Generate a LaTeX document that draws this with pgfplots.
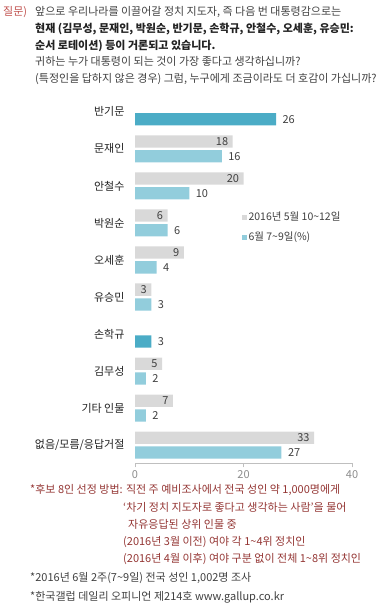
\documentclass[border=0pt]{standalone}
\usepackage{fontspec}
\setmainfont{Noto Sans CJK KR}
\usepackage{pgfplots}
\pgfplotsset{compat=1.18}
\definecolor{grayb}{HTML}{D9D9D9}
\definecolor{lblue}{HTML}{92CDDC}
\definecolor{dteal}{HTML}{4BACC6}
\definecolor{qred}{HTML}{C0504D}
\definecolor{fred}{HTML}{943634}
\definecolor{txt}{HTML}{404040}
\definecolor{txtb}{HTML}{222222}
\begin{document}
\begin{tikzpicture}[x=1pt,y=1pt]
\useasboundingbox (0,0) rectangle (380,-615);
% header
\begin{scope}[every node/.style={anchor=base west,inner sep=0pt,font=\fontsize{11}{12}\selectfont}]
\node[text=qred] at (3,-16) {질문)};
\node[text=txt] at (35,-16) {앞으로 우리나라를 이끌어갈 정치 지도자, 즉 다음 번 대통령감으로는};
\node[text=txtb] at (35,-33) {\bfseries 현재 (김무성, 문재인, 박원순, 반기문, 손학규, 안철수, 오세훈, 유승민:};
\node[text=txtb] at (35,-49.5) {\bfseries 순서 로테이션) 등이 거론되고 있습니다.};
\node[text=txt] at (35,-66) {귀하는 누가 대통령이 되는 것이 가장 좋다고 생각하십니까?};
\node[text=txt] at (35,-82.5) {(특정인을 답하지 않은 경우) 그럼, 누구에게 조금이라도 더 호감이 가십니까?};
\end{scope}
\begin{axis}[
  at={(135pt,-463.3pt)}, anchor=south west,
  scale only axis, width=217pt, height=370pt,
  xmin=0, xmax=40, ymin=-0.5, ymax=9.49,
  y dir=reverse,
  xbar, bar width=12.3pt,
  axis x line*=bottom, axis y line*=left,
  x axis line style={draw=black!25},
  y axis line style={draw=none},
  xtick={0,20,40},
  major x tick style={draw=black!25},
  x tick label style={text=black!45,font=\fontsize{11}{12}\selectfont},
  tick align=outside, major tick length=4pt,
  ytick={0,...,9},
  yticklabels={반기문,문재인,안철수,박원순,오세훈,유승민,손학규,김무성,기타 인물,없음/모름/응답거절},
  major y tick style={draw=none},
  y tick label style={text=txtb,font=\fontsize{11}{12}\selectfont,xshift=-3pt},
  /pgf/number format/assume math mode=true,
  legend style={draw=none,fill=none,at={(axis description cs:0.49,0.685)},anchor=north west,
    font=\fontsize{10.5}{12}\selectfont,text=txt,row sep=6pt,inner sep=0pt,
    legend cell align=left},
  legend image code/.code={\fill[#1,draw=none] (0pt,-2.5pt) rectangle (5pt,2.5pt);},
  nodes near coords,
  every node near coord/.append style={font=\fontsize{11}{12}\selectfont,text=txt},
]
\addplot[fill=grayb,draw=none,bar shift=7.4pt,
  every node near coord/.append style={anchor=east,xshift=-1pt}] coordinates {
  (18,1) (20,2) (6,3) (9,4) (3,5) (5,7) (7,8) (33,9)};
\addlegendentry{2016년 5월 10\char`~12일}
\addplot[fill=lblue,draw=none,bar shift=-7.4pt,
  every node near coord/.append style={anchor=west,xshift=3pt}] coordinates {
  (16,1) (10,2) (6,3) (4,4) (3,5) (2,7) (2,8) (27,9)};
\addlegendentry{6월 7\char`~9일(\%)}
\addplot[fill=dteal,draw=none,bar shift=-7.4pt,forget plot,
  every node near coord/.append style={anchor=west,xshift=3pt}] coordinates {
  (26,0) (3,6)};
\end{axis}
% footnotes
\begin{scope}[every node/.style={anchor=base west,inner sep=0pt,font=\fontsize{11}{12}\selectfont}]
\node[text=fred] at (30,-493) {*후보 8인 선정 방법: 직전 주 예비조사에서 전국 성인 약 1,000명에게};
\node[text=fred] at (123,-511) {‘차기 정치 지도자로 좋다고 생각하는 사람’을 물어};
\node[text=fred] at (128,-528) {자유응답된 상위 인물 중};
\node[text=fred] at (123,-545) {(2016년 3월 이전) 여야 각 1\char`~4위 정치인};
\node[text=fred] at (123,-562) {(2016년 4월 이후) 여야 구분 없이 전체 1\char`~8위 정치인};
\node[text=txt] at (30,-581) {*2016년 6월 2주(7\char`~9일) 전국 성인 1,002명 조사};
\node[text=txt] at (30,-600) {*한국갤럽 데일리 오피니언 제214호 www.gallup.co.kr};
\end{scope}
\end{tikzpicture}
\end{document}
